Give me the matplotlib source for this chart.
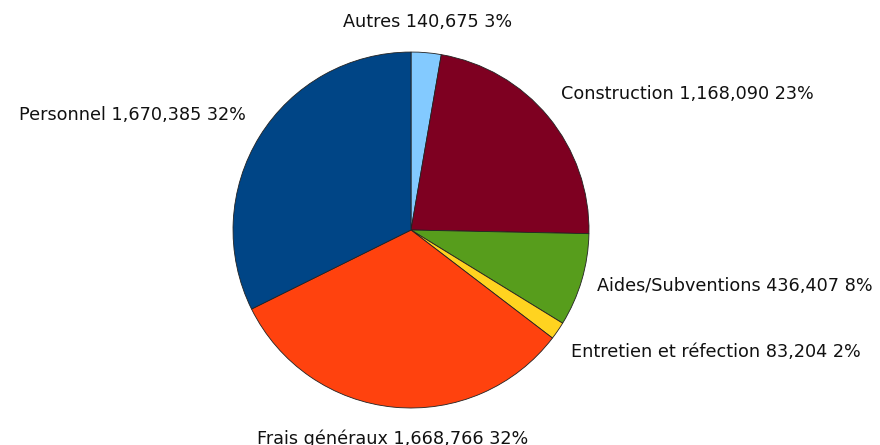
import numpy as np
import matplotlib
matplotlib.use('Agg')
import matplotlib.pyplot as plt

# postes de dépenses et montants
categories = ['Autres', 'Construction', 'Aides/Subventions',
              'Entretien et réfection', 'Frais généraux', 'Personnel']
montants = [140675, 1168090, 436407, 83204, 1668766, 1670385]
couleurs = ['#83CAFF', '#7E0021', '#579D1C', '#FFD320', '#FF420E', '#004586']

total = float(sum(montants))
labels = ['%s %s %d%%' % (c, format(v, ','), round(100.0 * v / total))
          for c, v in zip(categories, montants)]

fig = plt.figure(figsize=(8.8, 4.45), dpi=100)
ax = fig.add_axes([0.2648, 0.0831, 0.4045, 0.8])

wedges, _ = ax.pie(montants, colors=couleurs, startangle=90, counterclock=False,
                   radius=1.0, wedgeprops=dict(edgecolor='#222222', linewidth=0.6))
ax.set_xlim(-1, 1)
ax.set_ylim(-1, 1)
ax.axis('off')

# étiquettes posées à l'extérieur, alignées selon l'angle du secteur
for w, lab in zip(wedges, labels):
    ang = np.deg2rad((w.theta1 + w.theta2) / 2.0)
    c, s = np.cos(ang), np.sin(ang)
    ha = 'center' if abs(c) < 0.3 else ('left' if c > 0 else 'right')
    va = 'center' if abs(s) < 0.3 else ('bottom' if s > 0 else 'top')
    ax.text(1.09 * c, 1.125 * s, lab, ha=ha, va=va, fontsize=12.7,
            color='#111111', clip_on=False)

fig.savefig('out.png', dpi=100)
